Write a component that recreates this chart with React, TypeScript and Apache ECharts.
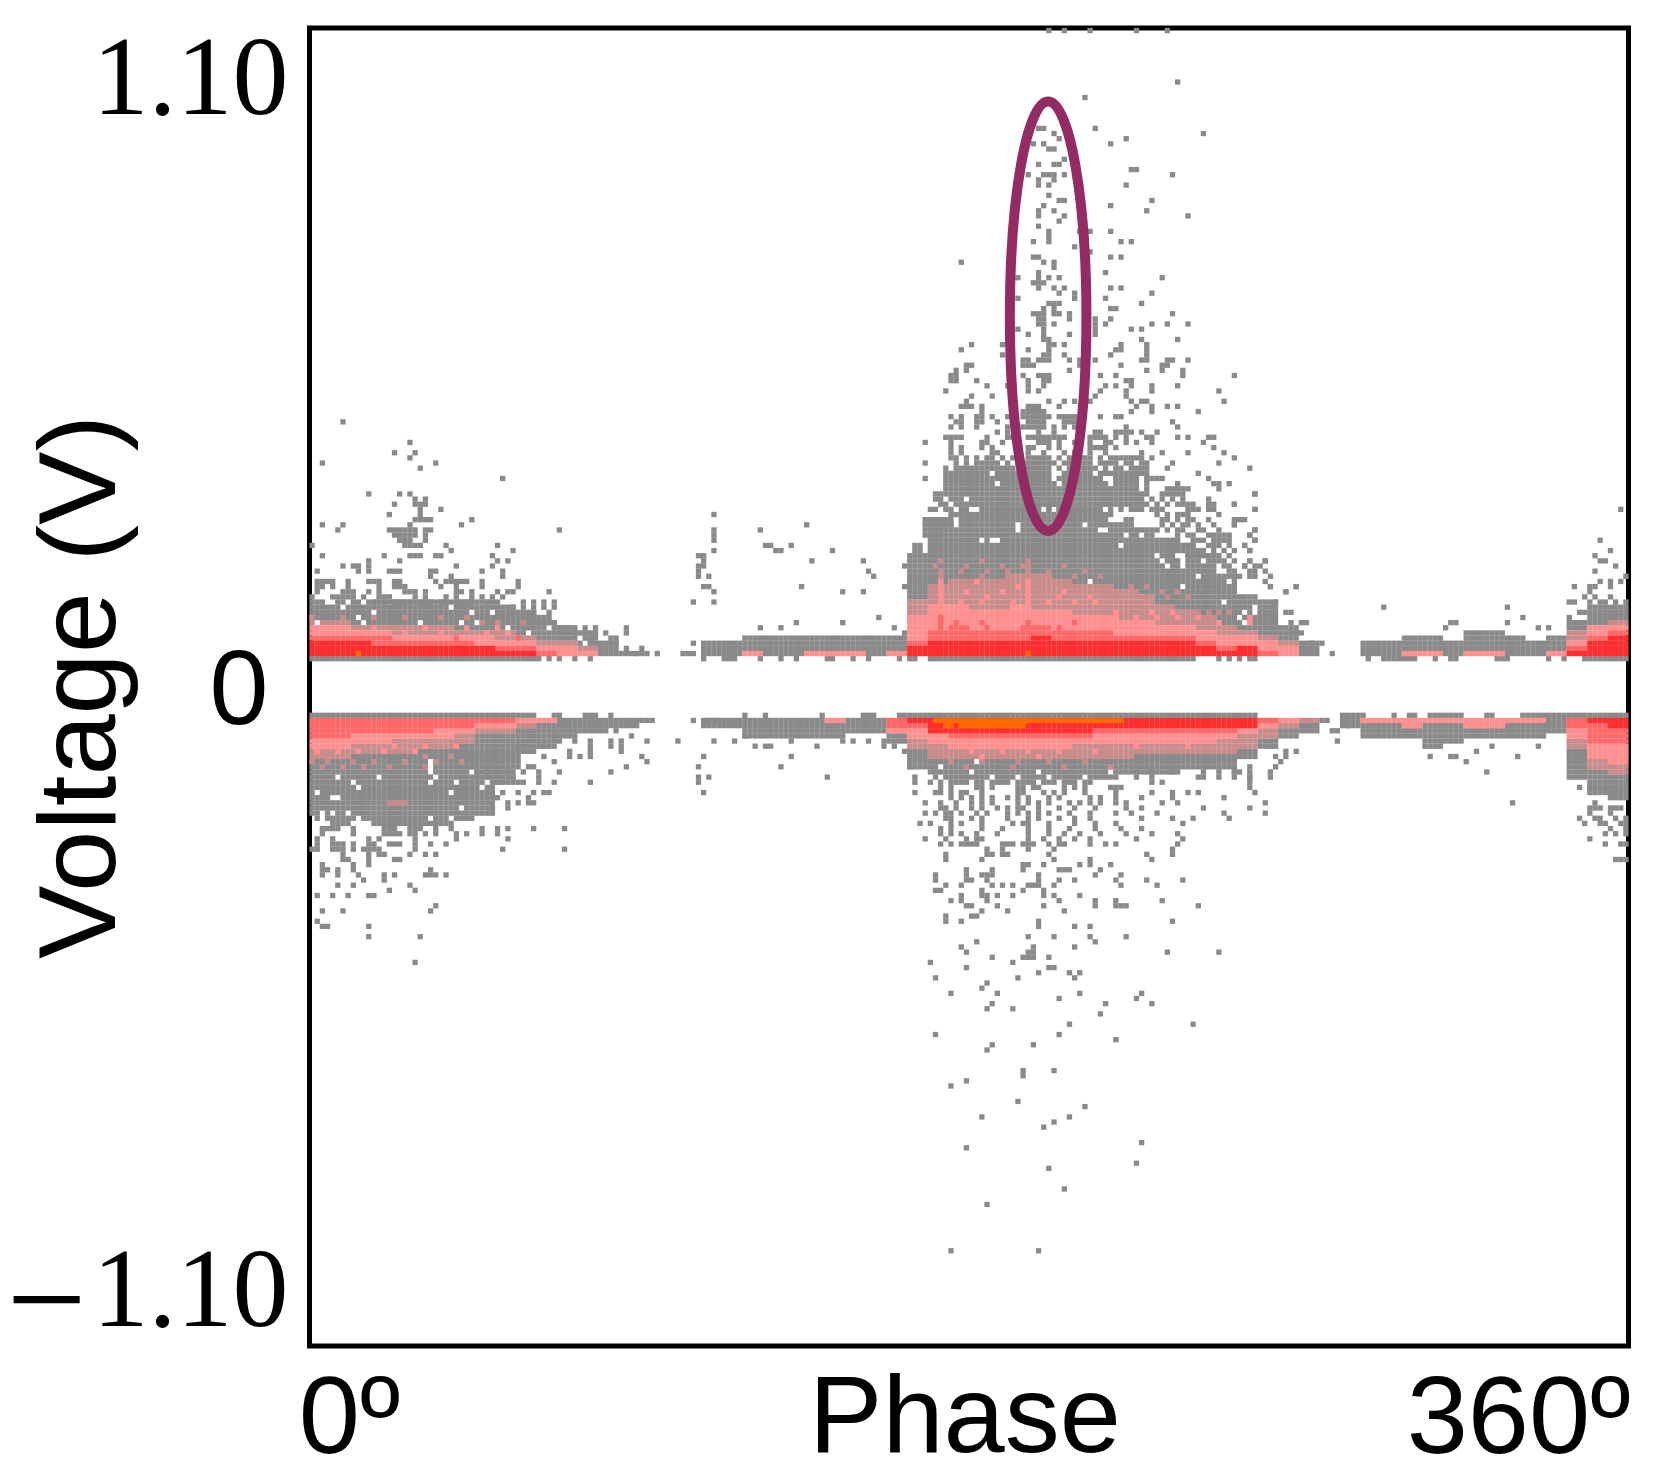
import React, { useEffect, useRef } from "react";
import * as echarts from "echarts";

// ---- binning of the phase-resolved matrix (256 x 256 bins) ----
const phaseBins = 256;
const voltBins = 256;
const voltRange = 1.2;
const segmentCols = 4;
const baselineRow = 5;

const yTicks = [-1.1, 0, 1.1];
const xTicks = [0, 360];

// highlighted cluster: [phase, voltage, phase half-width, voltage half-height]
const highlight = [201.6, 0.675, 10.45, 0.391];

// ---- band tops per 4-column segment (bin rows counted from 0 V) ----
const upperGray = [15,15,15,16,16,16,16,16,16,15,14,12,11,10,8,6,0,0,0,8,8,9,9,9,9,9,9,9,9,25,32,33,33,34,34,35,35,34,33,32,30,28,27,25,21,17,16,11,8,0,0,8,8,9,9,8,10,10,9,8,9,12,15,15];
const upperDusty = [12,12,11,11,11,11,11,10,10,10,9,8,8,7,5,5,5,5,5,5,5,5,5,5,5,5,5,5,6,16,19,20,20,20,21,21,20,19,19,18,17,15,14,13,11,10,9,8,5,5,5,5,5,5,5,5,5,5,5,5,6,10,11,12];
const upperPink = [11,11,10,10,9,9,9,9,9,8,8,7,7,6,5,5,5,5,5,5,5,6,5,5,6,6,6,5,6,13,15,15,14,14,15,14,14,13,13,12,12,11,11,10,9,9,8,7,5,5,5,5,5,6,6,5,6,6,5,5,6,8,11,11];
const upperSalmon = [9,9,9,9,8,8,8,8,7,7,7,6,5,5,5,5,5,5,5,5,5,5,5,5,5,5,5,5,5,8,10,11,10,10,10,11,10,10,10,9,9,9,9,8,7,7,6,5,5,5,5,5,5,5,5,5,5,5,5,5,5,7,9,10];
const upperRed = [8,8,8,7,7,7,7,7,7,6,6,5,5,5,5,5,5,5,5,5,5,5,5,5,5,5,5,5,5,7,8,8,8,8,8,9,8,8,8,8,8,8,8,7,6,7,5,5,5,5,5,5,5,5,5,5,5,5,5,5,5,6,8,9];

const lowerGray = [25,26,25,26,26,26,26,25,24,18,12,11,9,8,7,7,0,0,0,7,7,9,9,9,9,9,8,8,10,15,18,18,18,18,18,18,18,18,17,16,16,16,15,15,15,13,11,9,8,0,7,9,9,9,11,10,9,9,9,9,8,17,20,21];
const lowerDusty = [13,13,12,12,12,11,11,10,8,8,7,6,5,5,5,5,5,5,5,5,5,5,5,5,5,5,5,5,8,11,13,13,13,13,13,13,13,13,13,13,12,12,12,12,12,11,9,7,6,5,5,5,5,5,5,5,5,5,5,5,5,11,15,16];
const lowerPink = [11,11,10,10,9,9,9,8,7,7,6,6,5,5,5,5,5,5,5,5,5,5,5,5,5,6,5,5,8,9,10,11,11,11,11,11,11,10,10,10,10,10,10,10,9,8,7,6,5,5,5,6,6,7,6,6,7,7,6,6,5,9,13,14];
const lowerSalmon = [9,9,8,8,8,8,7,7,6,6,5,5,5,5,5,5,5,5,5,5,5,5,5,5,5,5,5,5,7,7,8,9,9,9,9,9,9,9,8,8,8,8,8,8,8,7,6,5,5,5,5,5,5,5,5,5,5,5,5,5,5,7,10,10];
const lowerRed = [5,5,5,5,5,5,5,5,5,5,5,5,5,5,5,5,5,5,5,5,5,5,5,5,5,5,5,5,5,6,8,8,8,8,8,8,8,8,7,7,7,7,7,7,7,7,5,5,5,5,5,5,5,5,5,5,5,5,5,5,5,5,6,7];

// ---- hottest bins [row, col, col...] ----
const upperOrange = [[6, 9, 139]];
const lowerOrange = [
  [6,121,122,123,124,125,126,127,128,129,130,131,132,133,134,135,136,137,138,139,140,141,142,143,144,145,146,147,148,149,150,151,152,153,154,155,156,157],
  [7,123,124,126,127,128,129,130,131,132,133,134,135,136,137,138],
];

// ---- isolated coloured bins above the bands [row, col, col...] ----
const upperRoseSpeckle = [
  [21,122,130,135,139,148,153],[22,122,126,131,135,139,143,150],[23,121,127,134,138,139,146],[24,139,130,122],[19,155,159,162],[18,157,160,165,168],[17,156,162,166,170],
  [14,172,174,176,178],[13,0,6,12,18,25,30],[12,33,36,41],
];
const upperPinkSpeckle = [
  [16,122,126,130,136,139,143,148,152],[17,122,131,139,145,151],[18,122,127,134,139,146],[19,122,137,139],[20,122,129,139],
  [13,156,160,164,168,172],[14,156,163,167],[11,12,22,30,36],[10,18,25,34,38],[12,176,182],[13,182],
];
const upperSalmonSpeckle = [
  [12,139],[11,139,138,131,122,145],[12,122,125,130,148],[13,122],[9,40,28],
];
const lowerRoseSpeckle = [
  [22,15,16,17,18],[15,2,6,10,15,22],[14,0,3,8,12,18,24,29],[13,22,27],[14,124,130,137,143,150],[15,127,136,146,155],
];
const lowerPinkSpeckle = [
  [12,1,5,9,14,20],[11,16,22,28],[12,128,134,139,145,152],[13,130,141],[11,160,170],
];

// ---- isolated positive-polarity bins [row, col, col...] ----
const upperSpeckle = [
  [127,143,146,151,160,166],[117,168],[114,150],[108,152,141,142],[107,173,144],[106,158,145],[105,155,140,142],[104,143,144],
  [102,146],[101,144,145,141],[100,159,160],[99,167,139,142,143,144,146],[98,141,144],[97,141,143,158],[95,143],[94,145,146,163],
  [93,155,142],[92,162,141,144],[91,141,146,170],[90,145],[89,141],[88,143,149,151,155],[87,143],[86,143,140,157,159],[85,148],
  [84,151],[83,140,141,155,157],[82,142,144,126],[81,144],[80,154,141],[79,165,137,141,143,145],[78,141,140,142],[77,141,144,146,155,157],
  [76,163,145,148],[75,148,154,137],[74,161,143,144,145],[73,155,156,144,142],[72,140,141,142,144,145,147,167],[71,152,147,155,141,142],
  [70,154,152,141,142,144,163,166,170],[69,137,142,159,161,152],[68,139,142,147,152],[67,142,143,161,168],[66,143,144,128,134,146,157,162],
  [65,126,139,143,156,157,162],[64,134,142,143,146,155,162],[63,138,139,141,142,143,147,149,152,161,162,166,167,170],
  [62,127,128,138,139,140,149,157,165,166],[61,127,125,147,162,165,169],[60,124,125,138,141,142,143,153,156,169,179],
  [59,124,125,129,139,142,143,158,159],[58,131,135,139,142,154,156,159,163,168],[57,123,139,141,153,158,163,176],
  [56,132,128,152,158],[55,127,151,143,146,148,159,161,162,177],[54,139,140,141,145,126,127,128,130,160,163,166,168],
  [53,138,139,140,141,142,130,159,163,172],[52,124,126,129,130,132,135,138,139,140,141,142,143,145,146,147,148,153,156,157],
  [51,125,126,129,130,133,139,140,141,142,146,147,148,167],[50,124,126,129,135,138,139,140,141,142,144,146,148,158,168],
  [49,133,135,141,144,156,157,158,152,153,159,161,164],[48,123,124,125,126,131,135,136,139,140,141,142,143,144,145,146,151,152,153,154,156,158,162,163,168,170,174,175],
  [47,124,130,131,134,141,142,143,145,148,151,154,155,158,160,163,173,119],[46,124,126,130,132,139,140,143,145,151,152,153,154,156,175],
  [45,124,126,132,133,139,142,146,148,151,154,161,165,170,177],[44,124,129,132,139,140,143,145,151,153,156,157,158,159,163,179],
  [43,129,130,132,135,140,141,142,144,146,149,153,154,158,159,119,167,176],[42,123,128,129,130,132,133,135,141,142,145,151,154,156,160,162,166,182],
  [41,123,124,125,126,130,133,134,135,141,146,151,153,154,155,162,158,172],[40,123,124,125,126,127,128,131,135,145,149,153,156,160,162,163,164,165,174,119],
  [39,123,124,125,126,127,130,134,135,146,150,154,156,162,168,175,176,178],[38,123,124,127,128,129,132,133,134,135,144,146,151,155,156,160,162,166,167,168,169,170,176],
  [37,121,122,123,124,127,129,133,143,145,146,154,158,159,165,166,167,168,169,183],
  [36,121,122,124,126,129,133,136,137,141,143,146,147,149,151,153,155,157,159,161,163,165,167,169,174],
  [35,122,123,125,127,128,130,132,134,135,138,139,140,141,143,145,146,148,150,152,154,156,158,160,162,164,166,168,169,170,171,174,175,179],
  [34,120,121,123,124,126,127,130,131,133,134,136,138,139,140,141,143,145,146,147,149,150,152,153,155,157,159,160,161,163,164,165,170,171,172,174,175,183],
  [44,125,127,131,134,136,141,142,147,149,150,155,160,161],[43,125,127,131,133,137,138,139,143,147,150,151,155,156,161,162],
  [42,125,126,127,131,134,136,138,139,140,143,147,149,150,152,157,159,161],[41,127,128,129,131,136,137,138,139,140,142,143,147,149,150,156,157,159,160,161],
  [40,129,130,132,133,134,136,137,138,139,140,141,142,143,146,147,150,151,152,157,158,159],[39,128,129,131,132,136,137,138,139,140,141,142,143,144,147,148,149,151,152,153,157,158,159,160],
  [38,125,126,130,131,136,137,138,139,140,141,142,143,145,147,148,149,150,152,153,154,157,158,159],[37,125,126,128,130,131,132,134,135,136,137,138,139,140,141,142,144,147,148,149,150,151,152,153,155,156,157,160,161,162],
  [36,125,128,130,131,132,134,135,138,139,140,142,144,145,148,150,152,154,156,158,160],[35,126,129,131,133,136,137,142,144,147,149,151,153,155,157,159,161],
  [33,164,166,168,169,170,176],[32,119,120,121,123,165,166,168,170,171,174,179,181],[31,119,120,122,123,124,165,167,169,170,172,175,179],[30,119,121,164,166,168,169,172,173,176,183],
  [29,119,120,122,168,170,171,174,175,178,176,177,182],[28,168,171,172,173,177,178,175,176,183],[27,170,171,174,178,175,176,181,117,118],[26,172,173,175,177,179,182,117,118],[25,170,172,174,176,178],[24,176,177,179,182,185],[23,177,178,183,184,181],[22,178,179,182,183,185],[21,180,182,183,186,179],[19,186,191],[18,189],
  [37,183],[35,179],[34,183],[32,180],[31,179],[30,183],[29,182],[28,183],[27,181],[26,182],[24,182,185],[23,181],[20,185],[19,186,191],[18,189],[16,187],[14,189,190],[12,190,192,193],[10,190,191,192],[8,194,196],[6,198],
  [15,208,232],[13,235],[12,232,221,222],[11,238,240,220],
  [34,254],[28,250],[26,252],[25,249],[24,250,251],[23,253],[22,249],[20,250,252,254],[21,255],[19,252,245,248,249],[18,248],[17,247,252,249],[16,244,245,248,250,251,253,255],[14,246,247],[13,244],
  [33,78],[30,78,87],[29,78],[28,78],[26,78,90,91,101],[31,96],[27,88,89,93],[24,97,107,76],[23,115,76,75],[25,75,76],[22,75,108],[21,75,77,109],[19,76,77,95,115],[18,78,103,107],[16,74,78],[13,110],[12,94,103],[11,87,91,113],[10,115],[8,74],[6,72,73,74],
  [51,6],[47,19],[45,16,20],[44,19],[43,2,24],[42,21],[40,37],[37,11,17,19],[36,20,22],[35,16,20,21,22],[34,25,21],[33,15,21],[32,20,21,22,23,31],[31,2,6,19,29],[30,5,15,16,17,18,19,20,22,23,48],[29,16,17,18,19,20,22],[28,17,18,19,22],[27,0,18,19,20,21,36,26],[26,27,39],[25,2,14,19,20,21,24,25,35],[24,36,38,11,17],[23,6,8,9,11,28,35],[22,1,9,11,15,16,17,23,24,33,37],[21,27,37,23],
  [20,1,2,3,4,7,11,12,13,16,17,24,26,27,28,29,30,33,40],[19,1,2,4,7,13,16,17,18,25,28,33,40],[18,1,6,7,8,11,13,18,19,20,22,28,29,31,36,38,39,46],[17,0,4,5,6,7,8,10,13,14,15,20,22,26,28,31,33,35,37],
  [16,0,1,2,5,6,8,9,11,12,14,16,17,18,19,21,22,23,25,26,28,29,30,31,34,36,41,43,45,47],[15,39,41,43,45,47],[14,39,43,46],[13,41,42,43,44,45,46],[12,43,44,45,46,47],[11,48,49,50,53,55,61],[10,49,51,53,55,57,61],[9,54,58,59],[8,54,58,59],[7,61,64],[6,63,64,65,67],
];

// ---- isolated negative-polarity bins [row, col, col...] ----
const lowerSpeckle = [
  [30,122,124,126,127,128,129,134,135,136,138,139,140,143,145,146,151,154,156,168],[31,131,134,139,144,167],[32,123,131,132,134,135,143,162,167],[33,123,130,144,151,163],
  [34,138,139,142,149,151,155],[35,127,132,138,145,146,147,153],[36,121,127,130,131,132,141,152,157],[37,127,128,145,148,156,162,169,141,121,131],[38,123,126,132,134,136,139,140,141,144,157,164],
  [39,121,122,130,138,142],[40,126,130,131,133,136,142,144,149],[41,124,126,131,145,152,156,165],[42,127,128,133,142,152,156,157,158,172],[43,130,135,146],[44,123,128,129],[45,123,126,141,167],
  [46,141,148,151],[48,139,144,151,158],[49,129,152],[50,126,140,148],[51,127,139,140,166,176],[52,132,138,139,140,143],[53,120,136],[54,127,143,144],[55,141,147,149],[56,121,137,148],[57,131],[58,130],
  [59,124,133,149,161],[60,145,160],[61,132,154,163],[62,131,136],[63,153],[65,147,171],[67,121,145],[68,156],[69,132,140],[70,131],[74,144,138],[75,138],[76,127],[77,124],[80,137],[81,150],[83,130,147],[84,144],[85,142],[88,161],[89,127],[92,160],[93,143],[97,146],[100,131],[109,124,141],
  [19,122,124,129,130,132,137,138,140,141,146,148,150,155,156,157],[20,121,122,124,126,127,130,137,138,142,144,146,150,156,163,167,170,172],[21,124,126,128,130,132,135,137,139,143,145,151,153,156,161,167,177],[22,119,122,125,128,130,132,137,139,141,143,147,149,151,153,156,158,165,168],
  [23,122,123,125,128,130,133,135,137,138,141,145,148,152,158,161,173],[24,119,121,123,124,126,129,131,135,137,139,141,143,147,151,156,159,164,177,185],[25,123,124,128,130,135,139,141,145,148,151,161,167,171,178],[26,118,120,124,126,130,136,138,139,143,148,152,156,169],
  [27,122,124,130,134,139,143,147,152,157,161],[28,122,124,126,129,133,139,143,146,149,153,158,163,168],[29,119,123,127,129,130,139,142,145,148,151,160,169],[16,163,167,168,173,176,179,182],[17,156,160,163,172,173,176,179,182,186],[18,117,163,165,182],
  [27,2,3,4,5,8,14,15,16,19,20,21,24,27,33,36,38,43,49],[28,2,8,14,15,16,17,19,20,22,24,28,30,33,36],[29,1,4,11,13,20,28,38],[30,1,4,5,6,8,11,12,15,16,17,20,23,26],[31,0,1,4,5,6,8,10,11,12,13,20,37,49],[32,6,11,13,14,19,22,24],[33,6,7,11,16,17],[34,2,8,11],[35,2,3,5,8,23],[36,2,5,9,14,16,22,23,24,26],[37,10,14],[38,5,8,19],[39,15,20],[40,1,4,7,11,12],[42,24],[43,6,23,2],[45,1],[46,2,3,11],[48,11,21],[53,20],
  [8,56,57,59],[9,47,62],[10,48,51,54,58,60,65,71],[11,40,45,54,58,60],[12,50,54,60],[13,31,33,35,40,45,50,52,54,64],[14,40,47,65],[15,31,32,34,40,42,43,61],[16,32,34,36,38,41,44,48,58],[17,30,32,34,39,44],[18,36,40,41,44,47,54],[19,34],[20,37,40,43,45,46],[21,42,36],[22,38,40,42,43],[23,35,38],
  [6,64,65,66,74,77,78,79,196,197,201],[10,78,82,93,103,105,108,111,199],[9,84],[11,86,88,89,98,111,113,238,229],[13,93,76,217,221,222,234,187,189],[12,115,226,189,191],[15,91,75,116,182,187],[17,100,75,77,117,182],[18,75],[20,76,117,183],[8,198,199],[7,201],
  [16,179,180,186,228],[19,182,246,248],[23,182,248,249,250,252,253,254],[22,185,233,249],[14,188,224],[25,246,249,250,253,255],[26,247,250,251,254,255],[29,248],[28,251,253,255],[30,251,254,255],[33,253,254,255],[24,248,252],[27,252,255],
];

// ---- empty bins inside the dense regions [row, col, col...] ----
const upperHoles = [
  [5,45,47,49,50,52,53,55,56,57,58,59,60,61,62,63,77,78,79,83,84,85,86,88,89,90,92,93,95,96,97,98,99,102,103,104,106,107,109,110,111,112,113,115,118,119,172,173,174,175,177,179,181,184,185,186,187,188,189,190,191,192,193,194,195,204,206,207,215,216,217,219,220,223,224,225,226,227,228,229,233,234,235,236,237,238,239,241,242,244,245,246],
  [33,121,122,164,167],[32,125,155,156,157,160,161,162,163],[31,125,137,150],[30,137,153,154,167,168],[29,158,161],[28,130,132,133,172],[27,157],[25,164,168,169],[24,165,169,173],[23,166,169,176],[21,172],[20,151,178],[19,169],
  [35,124,142,168],[34,128,129,144,142,156,165],[36,123,124,127],[33,165,167],[16,177],[14,181,183],[15,183],[13,180],[12,181],
  [15,6,27],[14,12,31,35],[13,9],[12,1,10,21,29,32],[11,38,46],[10,42,49],[9,52],[8,53],
];
const lowerHoles = [
  [5,44,45,46,49,50,51,52,56,57,59,60,61,62,63,76,77,78,79,80,81,82,83,85,86,87,89,90,91,92,93,94,95,96,97,98,100,101,102,103,104,105,106,110,111,112,113,184,185,186,187,188,189,190,191,192,193,194,195,205,206,207,208,209,211,212,215,216,224,225,226,227,230,231,232,233,234],
  [15,10,32,23],[14,23],[16,23,31],[17,5,13,24,30],[18,8,23,28,34],[19,9,33,34],[20,1,27],[21,4,5],[23,29],[24,2,4,7],[25,0,2,9,23,27],
  [14,129],[15,122],[16,128,141,155],[17,120,122,132,137,143,150],[18,121,123,128,131,136,141,145,149,153],
];

const phaseOf = (col: number) => ((col + 0.5) * 360) / phaseBins;
const voltOf = (row: number) => ((row + 0.5) * 2 * voltRange) / voltBins;

type Bands = { gray: number[][]; dusty: number[][]; pink: number[][]; salmon: number[][]; red: number[][]; orange: number[][] };

function addChannel(
  out: Bands, sign: number, gray: number[], dusty: number[], pink: number[], salmon: number[], red: number[],
  speckle: number[][], holes: number[][], orange: number[][], roseExtra: number[][], pinkExtra: number[][], salmonExtra: number[][],
) {
  const empty = new Set<string>();
  holes.forEach(([r, ...cols]) => cols.forEach((c) => empty.add(`${r}:${c}`)));
  gray.forEach((top, seg) => {
    if (top === 0) return;
    for (let c = seg * segmentCols; c < (seg + 1) * segmentCols; c++) {
      for (let r = baselineRow; r <= top; r++) {
        if (empty.has(`${r}:${c}`)) continue;
        const p = [phaseOf(c), sign * voltOf(r)];
        if (r === baselineRow) out.gray.push(p);
        else if (r <= red[seg]) out.red.push(p);
        else if (r <= salmon[seg]) out.salmon.push(p);
        else if (r <= pink[seg]) out.pink.push(p);
        else if (r <= dusty[seg]) out.dusty.push(p);
        else out.gray.push(p);
      }
    }
  });
  const spread = (list: number[][], into: number[][]) =>
    list.forEach(([r, ...cols]) => cols.forEach((c) => into.push([phaseOf(c), sign * voltOf(r)])));
  spread(speckle, out.gray);
  spread(orange, out.orange);
  spread(roseExtra, out.dusty);
  spread(pinkExtra, out.pink);
  spread(salmonExtra, out.salmon);
}

const bandColors: Record<keyof Bands, string> = {
  gray: "#8a8a8a", dusty: "#c98c8c", pink: "#ff9090", salmon: "#ff6868", red: "#ff2e2e", orange: "#ff6a00",
};

export default function App() {
  const ref = useRef<HTMLDivElement>(null);
  useEffect(() => {
    if (!ref.current) return;
    const chart = echarts.init(ref.current, undefined, { renderer: "svg" });
    const bands: Bands = { gray: [], dusty: [], pink: [], salmon: [], red: [], orange: [] };
    addChannel(bands, 1, upperGray, upperDusty, upperPink, upperSalmon, upperRed, upperSpeckle, upperHoles, upperOrange, upperRoseSpeckle, upperPinkSpeckle, upperSalmonSpeckle);
    addChannel(bands, -1, lowerGray, lowerDusty, lowerPink, lowerSalmon, lowerRed, lowerSpeckle, lowerHoles, lowerOrange, lowerRoseSpeckle, lowerPinkSpeckle, []);
    const order: (keyof Bands)[] = ["gray", "dusty", "pink", "salmon", "red", "orange"];
    const sans = "'Liberation Sans', Arial, sans-serif";
    const serif = "'Liberation Serif', 'Times New Roman', serif";
    chart.setOption({
      animation: false,
      backgroundColor: "#ffffff",
      grid: { left: 309.5, top: 28, width: 1319, height: 1318, show: true, borderColor: "#000", borderWidth: 5, backgroundColor: "transparent", outerBoundsMode: "none", containLabel: false },
      xAxis: {
        type: "value", min: 0, max: 360,
        name: "Phase", nameLocation: "middle", nameGap: 12, nameMoveOverlap: false,
        nameTextStyle: { fontFamily: sans, fontSize: 110, color: "#000", padding: [0, 8, 0, 0] },
        axisLine: { show: false }, axisTick: { show: false }, splitLine: { show: false },
        axisLabel: {
          customValues: xTicks, margin: 13, color: "#000", showMinLabel: true, showMaxLabel: true, hideOverlap: false,
          formatter: (v: number) => (v === 0 ? `{a|${v}º}` : `{b|${v}º}`),
          rich: {
            a: { fontFamily: sans, fontSize: 110, color: "#000", padding: [0, 0, 0, 80] },
            b: { fontFamily: sans, fontSize: 110, color: "#000", padding: [0, 220, 0, 0] },
          },
        },
      },
      yAxis: {
        type: "value", min: -voltRange, max: voltRange,
        name: "Voltage (V)", nameLocation: "middle", nameGap: 178, nameMoveOverlap: false,
        nameTextStyle: { fontFamily: sans, fontSize: 110, color: "#000" },
        axisLine: { show: false }, axisTick: { show: false }, splitLine: { show: false },
        axisLabel: {
          customValues: yTicks, margin: 21, color: "#000", hideOverlap: false,
          formatter: (v: number) => (v === 0 ? `{z|0}` : v < 0 ? `{m|−}{n|${Math.abs(v).toFixed(2)}}` : `{s|${v.toFixed(2)}}`),
          rich: {
            z: { fontFamily: sans, fontSize: 106, color: "#000", padding: [0, 20, 0, 0] },
            s: { fontFamily: serif, fontSize: 112, color: "#000", padding: [0, 0, 14, 0] },
            n: { fontFamily: serif, fontSize: 112, color: "#000", padding: [0, 0, 6, 0] },
            m: { fontFamily: serif, fontSize: 142, color: "#000", padding: [16, 6, 0, 0] },
          },
        },
      },
      series: [
        ...order.map((k) => ({
          type: "scatter", name: k, data: bands[k], symbol: "rect", symbolSize: 5.3,
          itemStyle: { color: bandColors[k], opacity: 1 }, silent: true, progressive: 0, large: false, clip: true,
        })),
        {
          type: "custom", name: "highlight", z: 20, silent: true, clip: false,
          data: [highlight],
          encode: { x: 0, y: 1 },
          renderItem: (_: unknown, api: any) => {
            const c = api.coord([api.value(0), api.value(1)]);
            const s = api.size([api.value(2), api.value(3)]);
            return {
              type: "ellipse",
              shape: { cx: c[0], cy: c[1], rx: s[0], ry: s[1] },
              style: { fill: "none", stroke: "#932c62", lineWidth: 10 },
            };
          },
        },
      ],
    });
    return () => chart.dispose();
  }, []);
  return <div ref={ref} style={{ position: "absolute", left: 0, top: 0, width: 1655, height: 1475, filter: "blur(0.6px)" }} />;
}
